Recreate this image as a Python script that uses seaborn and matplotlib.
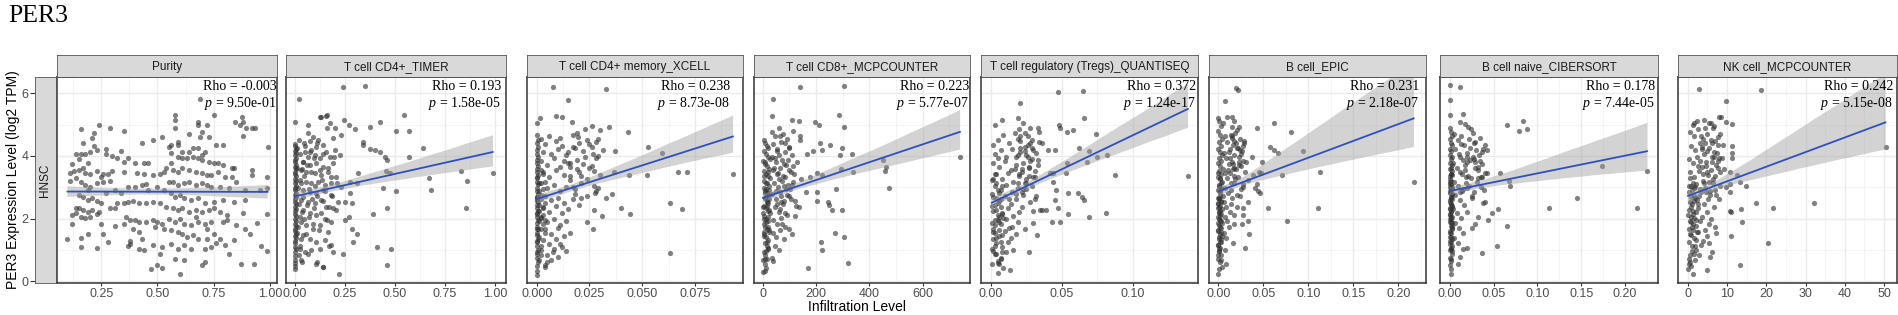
import numpy as np
import pandas as pd
import seaborn as sns
import matplotlib.pyplot as plt
from matplotlib.collections import PolyCollection

sns.set_theme(style="white")
plt.rcParams['font.family'] = ['Liberation Sans', 'DejaVu Sans']
plt.rcParams['mathtext.fontset'] = 'custom'
plt.rcParams['mathtext.rm'] = 'Liberation Serif'
plt.rcParams['mathtext.it'] = 'Liberation Serif:italic'

# %% DATA (PER3 log2 TPM vs infiltration level)

names = ['Purity', 'T cell CD4+_TIMER', 'T cell CD4+ memory_XCELL', 'T cell CD8+_MCPCOUNTER',
         'T cell regulatory (Tregs)_QUANTISEQ', 'B cell_EPIC', 'B cell naive_CIBERSORT', 'NK cell_MCPCOUNTER']
rho = ['-0.003', '0.193', '0.238', '0.223', '0.372', '0.231', '0.178', '0.242']
pval = ['9.50e-01', '1.58e-05', '8.73e-08', '5.77e-07', '1.24e-17', '2.18e-07', '7.44e-05', '5.15e-08']

xticks = [[0.25, 0.5, 0.75, 1.0], [0, 0.25, 0.5, 0.75, 1.0], [0, 0.025, 0.05, 0.075], [0, 200, 400, 600],
          [0, 0.05, 0.1], [0, 0.05, 0.1, 0.15, 0.2], [0, 0.05, 0.1, 0.15, 0.2], [0, 10, 20, 30, 40, 50]]
xticklabels = [['0.25', '0.50', '0.75', '1.00'], ['0.00', '0.25', '0.50', '0.75', '1.00'],
               ['0.000', '0.025', '0.050', '0.075'], ['0', '200', '400', '600'],
               ['0.00', '0.05', '0.10'], ['0.00', '0.05', '0.10', '0.15', '0.20'],
               ['0.00', '0.05', '0.10', '0.15', '0.20'], ['0', '10', '20', '30', '40', '50']]
xlims = [(0.054, 1.031), (-0.045, 1.055), (-0.0046, 0.0977), (-33, 777),
         (-0.0068, 0.146), (-0.0103, 0.2308), (-0.0114, 0.2377), (-2.5, 53.3)]

purity = [
    (0.16, 4.85), (0.24, 4.98), (0.29, 4.88), (0.35, 4.79), (0.22, 4.72), (0.17, 4.42), (0.21, 4.56), (0.22, 4.31),
    (0.27, 4.22), (0.34, 4.15), (0.14, 4.06), (0.16, 4.06), (0.18, 4.06), (0.20, 4.11), (0.23, 4.19), (0.30, 3.99),
    (0.32, 3.94), (0.37, 3.92), (0.35, 3.81), (0.40, 3.76), (0.43, 4.42), (0.48, 4.50), (0.52, 4.59), (0.44, 3.76),
    (0.46, 3.78), (0.12, 3.73), (0.15, 3.89), (0.19, 3.76), (0.11, 3.46), (0.13, 3.51), (0.15, 3.55), (0.18, 3.46),
    (0.20, 3.41), (0.23, 3.51), (0.26, 3.41), (0.28, 3.41), (0.30, 3.51), (0.35, 3.49), (0.41, 3.44), (0.44, 3.41),
    (0.48, 3.39), (0.51, 3.41), (0.53, 3.49), (0.11, 3.19), (0.16, 3.17), (0.18, 3.07), (0.20, 3.01), (0.23, 3.12),
    (0.26, 3.17), (0.29, 3.19), (0.31, 2.91), (0.37, 3.01), (0.40, 3.01), (0.43, 3.07), (0.45, 3.09), (0.46, 2.91),
    (0.50, 3.01), (0.53, 2.91), (0.15, 2.75), (0.17, 2.69), (0.19, 2.59), (0.19, 2.91), (0.21, 2.64), (0.23, 2.56),
    (0.25, 2.48), (0.27, 2.80), (0.34, 2.80), (0.32, 2.48), (0.35, 2.48), (0.37, 2.53), (0.39, 2.56), (0.42, 2.48),
    (0.45, 2.48), (0.48, 2.53), (0.51, 2.48), (0.14, 2.34), (0.15, 2.32), (0.17, 2.27), (0.19, 2.21), (0.21, 2.27),
    (0.24, 2.21), (0.29, 2.32), (0.31, 2.34), (0.12, 2.11), (0.14, 2.16), (0.16, 2.05), (0.18, 2.02), (0.20, 2.05),
    (0.23, 2.13), (0.25, 1.84), (0.36, 2.05), (0.38, 1.95), (0.40, 1.95), (0.42, 1.89), (0.45, 1.89), (0.48, 1.95),
    (0.50, 1.89), (0.52, 1.84), (0.12, 1.84), (0.31, 1.77), (0.35, 1.84), (0.39, 1.68), (0.42, 1.58), (0.43, 1.36),
    (0.49, 1.73), (0.53, 1.68), (0.19, 1.52), (0.26, 1.49), (0.10, 1.36), (0.16, 1.38), (0.28, 1.26), (0.38, 1.20),
    (0.38, 1.28), (0.16, 1.10), (0.23, 1.06), (0.37, 1.12), (0.42, 1.04), (0.44, 0.99), (0.48, 1.15), (0.52, 1.10),
    (0.47, 0.38), (0.50, 0.53), (0.52, 0.42), (0.51, 0.88),
    (0.58, 5.30), (0.58, 5.14), (0.58, 4.88), (0.68, 5.09), (0.68, 4.98), (0.72, 4.98), (0.75, 5.30), (0.70, 4.77),
    (0.845, 5.09), (0.875, 5.25), (0.88, 5.09), (0.865, 4.98), (0.895, 4.88), (0.92, 4.88), (0.88, 4.64),
    (0.935, 4.88), (0.99, 4.29), (0.64, 4.69), (0.69, 4.61), (0.73, 4.61), (0.76, 4.34), (0.79, 4.34), (0.55, 4.29),
    (0.56, 4.34), (0.59, 4.34), (0.59, 4.45), (0.61, 4.13), (0.64, 4.13), (0.66, 4.24), (0.68, 4.24), (0.70, 4.04),
    (0.71, 4.13), (0.56, 4.08), (0.59, 3.97), (0.61, 3.92), (0.63, 3.92), (0.66, 3.97), (0.68, 3.92), (0.70, 3.87),
    (0.73, 3.81), (0.75, 3.76), (0.77, 3.76), (0.79, 3.70), (0.83, 3.60), (0.84, 3.60), (0.92, 3.55), (0.56, 3.76),
    (0.54, 3.60), (0.57, 3.55), (0.59, 3.49), (0.61, 3.60), (0.64, 3.55), (0.67, 3.49), (0.70, 3.44), (0.72, 3.39),
    (0.74, 3.39), (0.77, 3.49), (0.80, 3.33), (0.83, 3.33), (0.85, 3.17), (0.92, 3.39), (0.985, 3.33), (0.55, 3.17),
    (0.57, 3.17), (0.59, 3.07), (0.62, 3.12), (0.64, 3.17), (0.67, 3.07), (0.70, 3.12), (0.72, 3.07), (0.74, 3.01),
    (0.78, 3.01), (0.82, 2.96), (0.89, 2.91), (0.955, 2.91), (0.985, 2.96), (0.56, 2.80), (0.58, 2.69), (0.60, 2.75),
    (0.62, 2.64), (0.65, 2.59), (0.68, 2.64), (0.71, 2.48), (0.75, 2.53), (0.79, 2.59), (0.84, 2.53), (0.89, 2.59),
    (0.54, 2.38), (0.57, 2.32), (0.59, 2.27), (0.61, 2.32), (0.64, 2.21), (0.67, 2.27), (0.70, 2.21), (0.73, 2.27),
    (0.75, 2.32), (0.78, 2.21), (0.81, 2.11), (0.55, 2.00), (0.58, 1.89), (0.60, 2.00), (0.62, 1.84), (0.65, 1.79),
    (0.68, 1.89), (0.71, 1.84), (0.74, 1.89), (0.79, 1.89), (0.85, 1.79), (0.89, 1.68), (0.985, 2.13), (0.56, 1.63),
    (0.59, 1.58), (0.61, 1.52), (0.66, 1.47), (0.68, 1.36), (0.72, 1.36), (0.75, 1.52), (0.78, 1.36), (0.56, 1.20),
    (0.59, 1.04), (0.62, 1.15), (0.65, 1.04), (0.71, 1.04), (0.74, 1.10), (0.80, 1.15), (0.82, 0.88), (0.985, 0.96),
    (0.58, 0.72), (0.62, 0.66), (0.70, 0.51), (0.71, 0.62), (0.87, 0.56), (0.93, 0.56), (0.60, 0.24), (0.69, 5.83),
    (0.17, 3.62), (0.27, 4.05), (0.14, 3.28), (0.25, 3.33), (0.63, 1.42), (0.67, 2.05), (0.72, 1.68), (0.76, 1.21),
    (0.81, 1.95), (0.84, 1.31), (0.88, 2.18), (0.91, 1.52), (0.94, 1.85), (0.96, 1.12),
]

cd4_timer = [
    (0.002, 4.38), (0.0, 4.31), (0.004, 4.22), (0.001, 4.17), (0.003, 4.09), (0.0, 4.02), (0.005, 3.93), (0.002, 3.88),
    (0.0, 3.79), (0.004, 3.71), (0.001, 3.66), (0.003, 3.58), (0.0, 3.47), (0.002, 3.41), (0.005, 3.36), (0.001, 3.27),
    (0.003, 3.19), (0.0, 3.12), (0.004, 3.04), (0.002, 2.97), (0.0, 2.91), (0.003, 2.83), (0.001, 2.74), (0.005, 2.69),
    (0.002, 2.61), (0.0, 2.52), (0.004, 2.46), (0.001, 2.38), (0.003, 2.31), (0.0, 2.23), (0.002, 2.14), (0.005, 2.08),
    (0.001, 1.99), (0.003, 1.92), (0.0, 1.83), (0.004, 1.77), (0.002, 1.68), (0.0, 1.61), (0.003, 1.52), (0.001, 1.44),
    (0.004, 1.37), (0.0, 1.28), (0.002, 1.21), (0.001, 1.09), (0.003, 1.02), (0.0, 0.93), (0.002, 0.81), (0.0, 0.66),
    (0.001, 0.58), (0.0, 0.47), (0.002, 0.39),
    (0.065, 4.98), (0.123, 5.25), (0.157, 5.28), (0.173, 5.05), (0.16, 4.88), (0.198, 4.88), (0.065, 4.72),
    (0.09, 4.61), (0.115, 4.50), (0.073, 4.47), (0.043, 4.40), (0.14, 4.34), (0.19, 4.56), (0.23, 4.66),
    (0.107, 4.29), (0.082, 4.19), (0.048, 4.13), (0.157, 4.13), (0.198, 4.19), (0.065, 3.97), (0.098, 4.03),
    (0.123, 3.92), (0.173, 3.97), (0.223, 4.03), (0.04, 3.81), (0.073, 3.70), (0.107, 3.76), (0.14, 3.65),
    (0.19, 3.76), (0.032, 3.55), (0.057, 3.49), (0.098, 3.44), (0.132, 3.39), (0.165, 3.49), (0.207, 3.33),
    (0.023, 3.23), (0.053, 3.17), (0.082, 3.12), (0.115, 3.17), (0.148, 3.07), (0.182, 3.12), (0.232, 3.01),
    (0.04, 2.91), (0.073, 2.85), (0.107, 2.80), (0.14, 2.91), (0.182, 2.75), (0.215, 2.53), (0.248, 2.53),
    (0.032, 2.59), (0.065, 2.53), (0.098, 2.48), (0.132, 2.59), (0.157, 2.38), (0.19, 2.32), (0.04, 2.27),
    (0.073, 2.16), (0.107, 2.11), (0.148, 2.00), (0.182, 1.89), (0.032, 1.89), (0.057, 1.79), (0.09, 1.68),
    (0.123, 1.79), (0.165, 1.58), (0.04, 1.47), (0.073, 1.36), (0.107, 1.26), (0.148, 1.31), (0.182, 1.15),
    (0.023, 1.04), (0.048, 0.94), (0.082, 0.99), (0.123, 1.04), (0.032, 0.66), (0.107, 0.56), (0.14, 0.45),
    (0.065, 0.88),
    (0.012, 3.62), (0.018, 2.45), (0.025, 4.05), (0.015, 1.72), (0.028, 3.15), (0.035, 2.21), (0.022, 4.52),
    (0.031, 1.35), (0.042, 3.82), (0.038, 2.68), (0.047, 1.98), (0.052, 4.31), (0.045, 3.35), (0.058, 2.42),
    (0.062, 3.71), (0.055, 1.52), (0.068, 2.95), (0.075, 4.12), (0.071, 2.05), (0.079, 3.48), (0.085, 2.62),
    (0.088, 1.81), (0.094, 3.92), (0.097, 2.33), (0.102, 3.05), (0.108, 4.42), (0.112, 2.72), (0.118, 1.62),
    (0.124, 3.55), (0.129, 2.18), (0.135, 3.22), (0.142, 2.55), (0.138, 4.05), (0.151, 2.88), (0.158, 1.95),
    (0.164, 3.62), (0.172, 2.38), (0.178, 3.32), (0.186, 2.72), (0.195, 3.95), (0.203, 2.28), (0.212, 3.12),
    (0.018, 0.85), (0.027, 1.12), (0.036, 0.62), (0.016, 2.98), (0.024, 2.05), (0.033, 3.58), (0.011, 4.25),
    (0.009, 1.55),
    (0.24, 6.19), (0.35, 6.23), (0.02, 5.81), (0.0, 5.09), (0.13, 5.25), (0.16, 5.30), (0.245, 5.16), (0.27, 4.98),
    (0.30, 4.87), (0.375, 4.93), (0.425, 5.09), (0.505, 4.80), (0.545, 5.30), (0.57, 4.79), (0.64, 4.24),
    (0.57, 3.95), (0.67, 3.30), (0.83, 3.51), (0.86, 3.19), (0.99, 3.46), (0.68, 2.91), (0.505, 2.88),
    (0.46, 2.35), (0.44, 2.96), (0.39, 2.14), (0.41, 1.08), (0.48, 1.02), (0.46, 0.52), (0.855, 2.35),
    (0.455, 3.53), (0.475, 3.44), (0.425, 4.13), (0.40, 4.19), (0.375, 4.21), (0.34, 4.45), (0.34, 4.35),
    (0.45, 3.97), (0.46, 3.86), (0.31, 1.52), (0.29, 1.26), (0.285, 1.68), (0.22, 0.24), (0.14, 0.45),
    (0.11, 0.61), (0.19, 0.92), (0.17, 1.13), (0.315, 3.44), (0.31, 3.12), (0.275, 3.17), (0.275, 2.82),
    (0.285, 2.48), (0.27, 2.05), (0.25, 1.94), (0.24, 0.88),
]

cd4_mem_xcell = [
    (0.0, 4.68), (0.0005, 4.51), (0.0, 4.42), (0.0005, 4.29), (0.0, 4.18), (0.0, 4.07), (0.0005, 3.96), (0.0, 3.88),
    (0.0, 3.77), (0.0005, 3.69), (0.0, 3.58), (0.0, 3.47), (0.0005, 3.39), (0.0, 3.28), (0.0, 3.17), (0.0005, 3.09),
    (0.0, 2.98), (0.0, 2.89), (0.0005, 2.78), (0.0, 2.69), (0.0, 2.61), (0.0005, 2.52), (0.0, 2.43), (0.0, 2.33),
    (0.0005, 2.24), (0.0, 2.13), (0.0, 2.04), (0.0005, 1.96), (0.0, 1.85), (0.0, 1.74), (0.0005, 1.66), (0.0, 1.55),
    (0.0, 1.47), (0.0005, 1.36), (0.0, 1.24), (0.0, 1.12), (0.0005, 1.01), (0.0, 0.88), (0.0, 0.74), (0.0005, 0.61),
    (0.0, 0.49), (0.0, 0.33), (0.0, 0.21),
    (0.002, 4.55), (0.004, 4.38), (0.006, 4.62), (0.009, 4.47), (0.012, 4.33), (0.003, 4.12), (0.007, 4.05),
    (0.010, 4.21), (0.014, 4.02), (0.017, 4.28), (0.002, 3.85), (0.005, 3.72), (0.008, 3.93), (0.011, 3.66),
    (0.015, 3.78), (0.019, 3.59), (0.003, 3.48), (0.006, 3.31), (0.009, 3.55), (0.013, 3.38), (0.016, 3.22),
    (0.021, 3.35), (0.002, 3.12), (0.005, 2.98), (0.008, 3.07), (0.011, 2.87), (0.014, 3.01), (0.018, 2.79),
    (0.004, 2.72), (0.007, 2.58), (0.010, 2.66), (0.013, 2.49), (0.017, 2.61), (0.003, 2.35), (0.006, 2.22),
    (0.009, 2.41), (0.012, 2.17), (0.015, 2.31), (0.020, 2.44), (0.002, 2.03), (0.005, 1.88), (0.008, 1.97),
    (0.011, 1.79), (0.014, 1.92), (0.004, 1.65), (0.007, 1.52), (0.010, 1.71), (0.013, 1.43), (0.003, 1.31),
    (0.006, 1.18), (0.009, 1.36), (0.012, 1.08), (0.002, 0.98), (0.005, 0.84), (0.008, 1.02), (0.004, 0.45),
    (0.007, 0.68), (0.013, 3.85), (0.011, 4.58), (0.016, 3.65),
    (0.0, 2.18), (0.001, 1.42), (0.002, 2.75), (0.0, 0.92), (0.003, 2.36), (0.001, 3.12), (0.002, 1.68),
    (0.0, 2.55), (0.004, 1.95), (0.001, 0.68), (0.003, 3.42), (0.002, 2.05), (0.0, 1.28), (0.001, 2.88),
    (0.004, 2.48), (0.002, 1.12), (0.0, 3.31), (0.003, 1.82), (0.001, 2.25), (0.002, 3.55), (0.004, 1.55),
    (0.0, 2.68), (0.001, 1.91), (0.003, 2.95), (0.002, 0.82), (0.004, 3.18), (0.001, 2.42), (0.0, 1.65),
    (0.003, 2.12), (0.002, 2.62),
    (0.015, 4.12), (0.016, 3.35), (0.017, 4.68), (0.018, 2.95), (0.019, 3.88), (0.020, 4.42), (0.021, 3.12),
    (0.022, 3.75), (0.023, 4.85), (0.024, 2.72), (0.025, 3.62), (0.026, 4.28), (0.027, 3.05), (0.028, 3.92),
    (0.029, 4.55), (0.030, 3.38), (0.016, 3.78), (0.018, 4.25), (0.020, 3.48), (0.022, 4.15), (0.024, 3.25),
    (0.026, 3.68), (0.028, 2.88), (0.017, 3.02), (0.019, 4.72), (0.021, 2.65), (0.023, 3.95), (0.025, 4.38),
    (0.027, 3.52), (0.029, 2.98),
    (0.0079, 6.19), (0.033, 6.14), (0.015, 5.77), (0.009, 5.27), (0.0118, 5.25), (0.0166, 5.07), (0.0, 5.04),
    (0.0016, 5.20), (0.026, 4.95), (0.030, 4.82), (0.034, 4.93), (0.043, 4.75), (0.0197, 4.59), (0.024, 4.50),
    (0.028, 4.45), (0.0315, 4.19), (0.037, 4.16), (0.0526, 4.29), (0.0592, 4.08), (0.0265, 4.05), (0.0292, 4.00),
    (0.067, 3.47), (0.071, 3.49), (0.093, 3.42), (0.052, 3.38), (0.0437, 3.40), (0.0367, 3.49), (0.0276, 2.82),
    (0.0355, 2.77), (0.0328, 2.64), (0.040, 2.34), (0.044, 2.13), (0.031, 2.09), (0.027, 2.27), (0.063, 2.48),
    (0.069, 2.30), (0.024, 1.90), (0.0265, 1.68), (0.016, 1.55), (0.063, 0.90), (0.0139, 0.97), (0.011, 1.20),
    (0.0079, 0.93), (0.0103, 0.78), (0.0047, 0.62), (0.004, 0.51),
]

cd8_mcp = [
    (3, 4.52), (8, 4.41), (14, 4.33), (21, 4.25), (5, 4.16), (11, 4.05), (18, 3.97), (26, 3.91), (2, 3.84),
    (9, 3.75), (16, 3.68), (24, 3.59), (4, 3.51), (12, 3.43), (19, 3.36), (28, 3.28), (6, 3.21), (13, 3.12),
    (22, 3.05), (3, 2.97), (10, 2.89), (17, 2.81), (25, 2.74), (7, 2.66), (15, 2.57), (21, 2.49), (4, 2.41),
    (11, 2.33), (19, 2.24), (27, 2.17), (6, 2.08), (13, 1.99), (20, 1.91), (3, 1.82), (9, 1.74), (16, 1.66),
    (24, 1.57), (5, 1.49), (12, 1.41), (18, 1.32), (8, 1.23), (14, 1.12), (21, 1.04), (4, 0.93), (10, 0.82),
    (16, 0.71), (7, 0.55), (12, 0.42), (2, 0.30),
    (35, 4.75), (45, 4.62), (60, 4.88), (75, 4.71), (90, 4.55), (40, 4.38), (55, 4.21), (70, 4.44), (85, 4.12),
    (100, 4.30), (35, 3.95), (48, 3.82), (62, 4.03), (78, 3.74), (95, 3.88), (115, 3.67), (38, 3.55), (52, 3.41),
    (66, 3.62), (83, 3.32), (105, 3.47), (42, 3.15), (57, 3.02), (72, 3.21), (88, 2.95), (110, 3.08), (36, 2.78),
    (50, 2.63), (64, 2.85), (80, 2.55), (98, 2.71), (45, 2.38), (60, 2.21), (75, 2.45), (92, 2.12), (40, 1.95),
    (55, 1.81), (68, 2.02), (85, 1.72), (38, 1.55), (50, 1.41), (65, 1.62), (45, 1.12), (60, 0.98), (35, 0.75),
    (120, 2.55), (130, 3.80), (100, 1.65),
    (2, 2.18), (5, 1.45), (8, 2.82), (11, 0.95), (14, 2.41), (17, 3.15), (20, 1.72), (23, 2.62), (3, 3.35),
    (6, 1.98), (9, 0.72), (12, 2.95), (15, 1.25), (18, 2.05), (21, 3.48), (24, 2.28), (4, 1.58), (7, 2.65),
    (10, 3.82), (13, 1.88), (16, 2.52), (19, 1.05), (22, 2.92), (1, 2.38), (25, 1.62),
    (42, 3.62), (48, 2.88), (55, 4.15), (61, 3.25), (67, 2.52), (73, 3.88), (79, 3.05), (85, 4.42), (91, 2.75),
    (97, 3.55), (103, 2.95), (109, 4.02), (115, 3.18), (45, 3.92), (52, 2.45), (58, 3.45), (64, 4.62), (70, 2.72),
    (76, 3.35), (82, 2.18), (88, 3.72), (94, 3.08), (100, 4.25), (106, 2.62), (118, 3.42),
    (140, 6.19), (306, 6.23), (37, 5.81), (34, 5.28), (109, 5.16), (134, 5.11), (196, 5.09), (211, 5.00),
    (286, 5.32), (305, 4.93), (113, 4.80), (138, 4.63), (140, 4.50), (215, 4.40), (252, 4.35), (296, 4.24),
    (334, 4.05), (290, 4.02), (187, 4.16), (165, 4.05), (221, 4.19), (452, 3.86), (461, 3.65), (459, 3.51),
    (475, 2.96), (740, 3.95), (294, 3.57), (340, 3.49), (205, 3.44), (221, 3.38), (178, 3.33), (143, 3.26),
    (162, 2.85), (203, 2.85), (203, 2.56), (246, 2.53), (250, 2.43), (259, 2.27), (296, 2.27), (274, 2.93),
    (125, 2.40), (134, 2.37), (119, 2.09), (109, 1.52), (81, 1.36), (271, 1.55), (218, 1.26), (221, 0.99),
    (305, 1.40), (321, 0.57), (171, 0.43), (40, 0.65), (9, 0.31), (0, 0.68), (63, 2.30), (71, 1.84),
]

treg_quantiseq = [
    (0.002, 4.35), (0.005, 4.52), (0.009, 4.68), (0.013, 4.41), (0.017, 4.72), (0.021, 4.49), (0.026, 4.62),
    (0.003, 4.05), (0.007, 4.18), (0.011, 3.97), (0.015, 4.22), (0.019, 4.02), (0.024, 4.15), (0.029, 3.91),
    (0.002, 3.78), (0.006, 3.64), (0.010, 3.83), (0.014, 3.55), (0.018, 3.72), (0.022, 3.48), (0.027, 3.66),
    (0.004, 3.41), (0.008, 3.27), (0.012, 3.46), (0.016, 3.18), (0.020, 3.35), (0.025, 3.12), (0.031, 3.31),
    (0.003, 3.05), (0.007, 2.91), (0.011, 3.08), (0.015, 2.84), (0.019, 2.97), (0.023, 2.76), (0.002, 2.68),
    (0.006, 2.55), (0.010, 2.72), (0.014, 2.46), (0.018, 2.61), (0.022, 2.38), (0.028, 2.52), (0.004, 2.28),
    (0.008, 2.15), (0.012, 2.33), (0.016, 2.07), (0.020, 2.21), (0.003, 1.95), (0.007, 1.82), (0.011, 1.98),
    (0.015, 1.74), (0.019, 1.88), (0.024, 1.67), (0.002, 1.58), (0.006, 1.45), (0.010, 1.61), (0.014, 1.37),
    (0.018, 1.52), (0.004, 1.22), (0.008, 1.09), (0.012, 1.26), (0.016, 1.01), (0.003, 0.88), (0.007, 0.74),
    (0.011, 0.93), (0.005, 0.58), (0.009, 0.43), (0.001, 2.41), (0.001, 3.22), (0.013, 2.62), (0.017, 3.58),
    (0.021, 4.26), (0.009, 2.02), (0.013, 1.71), (0.005, 3.94), (0.025, 2.94), (0.030, 2.25),
    (0.001, 1.85), (0.002, 0.95), (0.003, 2.42), (0.004, 1.38), (0.005, 2.91), (0.006, 1.62), (0.007, 0.72),
    (0.008, 2.18), (0.002, 3.25), (0.003, 1.12), (0.004, 2.65), (0.005, 1.95), (0.006, 0.55), (0.007, 2.38),
    (0.008, 1.48), (0.001, 2.78), (0.002, 1.68), (0.003, 3.42), (0.004, 0.88), (0.005, 2.12), (0.006, 2.82),
    (0.007, 1.25), (0.008, 3.05), (0.001, 1.02), (0.002, 2.25), (0.003, 1.55), (0.004, 3.15), (0.005, 0.65),
    (0.006, 1.88), (0.007, 2.62), (0.008, 0.92), (0.003, 1.78), (0.005, 2.48), (0.002, 1.35), (0.006, 2.05),
    (0.018, 3.95), (0.019, 4.55), (0.020, 3.42), (0.021, 4.12), (0.022, 2.85), (0.023, 3.78), (0.024, 4.72),
    (0.025, 3.25), (0.026, 4.35), (0.027, 3.62), (0.028, 4.88), (0.029, 3.05), (0.030, 4.18), (0.031, 3.52),
    (0.032, 2.72), (0.033, 3.88), (0.034, 4.45), (0.019, 3.15), (0.021, 4.62), (0.023, 2.95), (0.025, 4.02),
    (0.027, 3.35), (0.029, 4.25), (0.031, 2.62), (0.033, 3.72), (0.020, 4.85), (0.022, 3.58), (0.024, 3.12),
    (0.026, 3.98), (0.028, 4.42), (0.030, 3.32), (0.032, 4.08), (0.018, 2.78), (0.024, 4.28), (0.028, 3.85),
    (0.0472, 6.05), (0.0648, 6.08), (0.0206, 5.70), (0.066, 5.20), (0.048, 4.98), (0.049, 4.88), (0.0535, 4.77),
    (0.058, 4.82), (0.074, 4.69), (0.0624, 4.24), (0.0695, 4.16), (0.0676, 3.81), (0.0751, 3.97), (0.0817, 4.02),
    (0.054, 3.76), (0.053, 3.44), (0.0875, 3.38), (0.139, 3.35), (0.0547, 2.82), (0.0617, 2.82), (0.0645, 2.69),
    (0.0657, 2.58), (0.0472, 2.34), (0.0547, 2.13), (0.069, 2.05), (0.0812, 2.16), (0.049, 1.90), (0.043, 1.88),
    (0.045, 2.58), (0.046, 2.90), (0.0441, 3.17), (0.0441, 3.44), (0.0406, 4.19), (0.045, 4.19), (0.033, 4.88),
    (0.034, 4.77), (0.029, 4.50), (0.036, 4.40), (0.0418, 3.44), (0.0348, 2.27), (0.036, 2.27), (0.039, 2.27),
    (0.0296, 1.87), (0.0328, 1.47), (0.0272, 0.94), (0.0136, 0.35), (0.0049, 0.26), (0.0007, 0.54), (0.0031, 4.98),
    (0.0078, 5.14), (0.0195, 5.20), (0.023, 5.04),
]

b_epic = [
    (0.001, 5.12), (0.003, 4.95), (0.000, 4.81), (0.002, 4.68), (0.004, 4.55), (0.001, 4.43), (0.003, 4.31),
    (0.000, 4.22), (0.002, 4.12), (0.004, 4.03), (0.001, 3.94), (0.003, 3.85), (0.000, 3.76), (0.002, 3.68),
    (0.005, 3.59), (0.001, 3.51), (0.003, 3.42), (0.000, 3.33), (0.002, 3.25), (0.004, 3.16), (0.001, 3.08),
    (0.003, 2.99), (0.000, 2.91), (0.002, 2.82), (0.005, 2.73), (0.001, 2.65), (0.003, 2.56), (0.000, 2.48),
    (0.002, 2.39), (0.004, 2.31), (0.001, 2.22), (0.003, 2.13), (0.000, 2.05), (0.002, 1.96), (0.004, 1.87),
    (0.001, 1.78), (0.003, 1.69), (0.000, 1.61), (0.002, 1.52), (0.004, 1.43), (0.001, 1.34), (0.003, 1.25),
    (0.000, 1.16), (0.002, 1.06), (0.001, 0.95), (0.003, 0.84), (0.000, 0.72), (0.002, 0.61), (0.001, 0.38),
    (0.007, 4.62), (0.010, 4.45), (0.013, 4.21), (0.006, 4.08), (0.009, 3.92), (0.012, 3.74), (0.016, 3.58),
    (0.007, 3.46), (0.010, 3.28), (0.014, 3.12), (0.008, 2.96), (0.011, 2.81), (0.015, 2.66), (0.006, 2.52),
    (0.009, 2.37), (0.013, 2.21), (0.007, 2.06), (0.010, 1.91), (0.012, 1.72), (0.006, 1.55), (0.009, 1.38),
    (0.008, 0.98), (0.018, 3.35), (0.021, 2.75), (0.017, 2.12), (0.011, 3.55), (0.014, 2.45),
    (0.000, 1.85), (0.001, 2.62), (0.002, 1.25), (0.003, 2.95), (0.000, 0.82), (0.001, 2.18), (0.002, 3.28),
    (0.003, 1.58), (0.000, 2.45), (0.001, 1.05), (0.002, 2.72), (0.003, 1.92), (0.000, 3.45), (0.001, 1.42),
    (0.002, 2.08), (0.003, 0.68), (0.000, 2.32), (0.001, 3.05), (0.002, 1.72), (0.003, 2.52), (0.000, 1.15),
    (0.001, 1.98), (0.002, 2.88), (0.003, 1.35), (0.000, 2.65), (0.001, 0.95), (0.002, 2.25), (0.003, 3.12),
    (0.000, 1.62), (0.001, 2.38),
    (0.012, 4.12), (0.013, 3.45), (0.014, 4.68), (0.015, 3.82), (0.016, 4.35), (0.017, 3.15), (0.018, 4.02),
    (0.019, 4.72), (0.020, 3.58), (0.021, 4.25), (0.022, 3.32), (0.023, 3.95), (0.024, 4.55), (0.025, 3.68),
    (0.026, 4.15), (0.027, 3.02), (0.028, 3.85), (0.029, 4.42), (0.030, 3.48), (0.013, 3.92), (0.015, 4.58),
    (0.017, 3.62), (0.019, 3.25), (0.021, 4.82), (0.023, 3.72), (0.025, 4.05), (0.027, 4.32), (0.014, 2.92),
    (0.016, 3.75), (0.018, 4.48),
    (0.0197, 6.16), (0.0214, 6.10), (0.0074, 5.76), (0.0093, 5.23), (0.0148, 5.25), (0.0174, 5.11), (0.0, 5.20),
    (0.0056, 5.04), (0.0156, 4.93), (0.0233, 4.93), (0.0426, 4.88), (0.062, 5.06), (0.081, 4.75), (0.0285, 4.48),
    (0.0148, 4.62), (0.020, 4.40), (0.022, 4.24), (0.024, 4.19), (0.037, 3.97), (0.057, 4.29), (0.0615, 4.19),
    (0.066, 4.08), (0.0937, 4.16), (0.0233, 3.81), (0.0307, 3.81), (0.049, 3.81), (0.0456, 3.49), (0.047, 3.44),
    (0.0711, 3.40), (0.113, 3.49), (0.0389, 3.38), (0.0333, 3.22), (0.0278, 3.11), (0.0426, 3.09), (0.0407, 2.98),
    (0.0444, 2.87), (0.0463, 2.81), (0.0241, 2.73), (0.0248, 2.95), (0.2174, 3.17), (0.0556, 2.32), (0.111, 2.32),
    (0.0333, 2.53), (0.0278, 2.32), (0.0204, 2.37), (0.0278, 2.11), (0.0259, 1.84), (0.0174, 1.84), (0.076, 1.92),
    (0.0333, 1.93), (0.0344, 1.52), (0.0159, 1.23), (0.0296, 1.07), (0.0085, 0.54), (0.0037, 0.45), (0.0, 0.24),
]

bnaive_cibersort = [
    (0.000, 4.88), (0.001, 4.77), (0.002, 4.63), (0.000, 4.55), (0.001, 4.41), (0.002, 4.36), (0.000, 4.22),
    (0.001, 4.17), (0.000, 4.04), (0.002, 3.96), (0.001, 3.91), (0.000, 3.78), (0.002, 3.72), (0.001, 3.61),
    (0.000, 3.57), (0.001, 3.43), (0.002, 3.38), (0.000, 3.26), (0.001, 3.21), (0.000, 3.09), (0.002, 3.02),
    (0.001, 2.94), (0.000, 2.81), (0.002, 2.77), (0.001, 2.64), (0.000, 2.58), (0.001, 2.47), (0.002, 2.41),
    (0.000, 2.29), (0.001, 2.23), (0.000, 2.12), (0.002, 2.06), (0.001, 1.94), (0.000, 1.89), (0.001, 1.76),
    (0.002, 1.71), (0.000, 1.59), (0.001, 1.53), (0.000, 1.42), (0.002, 1.36), (0.001, 1.24), (0.000, 1.18),
    (0.001, 1.07), (0.000, 0.99), (0.002, 0.86), (0.000, 0.74), (0.001, 0.63), (0.000, 0.51),
    (0.005, 4.71), (0.009, 4.52), (0.013, 4.38), (0.006, 4.22), (0.010, 4.05), (0.015, 3.88), (0.004, 3.76),
    (0.008, 3.61), (0.012, 3.47), (0.018, 3.32), (0.005, 3.18), (0.009, 3.03), (0.014, 2.88), (0.020, 2.97),
    (0.006, 2.74), (0.011, 2.59), (0.016, 2.42), (0.004, 2.31), (0.008, 2.16), (0.013, 2.02), (0.019, 2.22),
    (0.006, 1.87), (0.010, 1.71), (0.015, 1.55), (0.005, 1.38), (0.009, 1.21), (0.022, 3.05), (0.025, 2.65),
    (0.027, 3.90), (0.012, 2.85), (0.017, 3.55),
    (0.000, 2.15), (0.001, 1.42), (0.002, 2.78), (0.000, 3.35), (0.001, 1.88), (0.002, 0.95), (0.000, 2.52),
    (0.001, 3.08), (0.002, 1.65), (0.000, 2.32), (0.001, 0.72), (0.002, 2.95), (0.000, 1.28), (0.001, 2.45),
    (0.002, 3.52), (0.000, 1.98), (0.001, 2.68), (0.002, 1.12), (0.000, 3.18), (0.001, 2.05), (0.002, 2.38),
    (0.000, 1.55), (0.001, 3.42), (0.002, 1.85), (0.000, 2.88), (0.001, 1.02), (0.002, 2.62), (0.000, 3.02),
    (0.001, 2.22), (0.002, 1.75),
    (0.012, 3.95), (0.014, 3.42), (0.016, 4.35), (0.018, 3.12), (0.020, 3.82), (0.022, 4.55), (0.024, 3.28),
    (0.026, 3.95), (0.028, 2.85), (0.030, 4.18), (0.032, 3.55), (0.034, 3.85), (0.036, 3.02), (0.038, 4.22),
    (0.040, 3.45), (0.013, 4.62), (0.015, 2.95), (0.017, 3.72), (0.019, 4.08), (0.021, 3.35), (0.023, 3.88),
    (0.025, 2.72), (0.027, 4.42), (0.029, 3.62), (0.031, 3.18), (0.033, 4.02), (0.035, 3.32), (0.037, 3.75),
    (0.039, 2.92), (0.024, 4.85),
    (0.0, 6.26), (0.0118, 6.21), (0.0, 5.79), (0.0, 5.30), (0.0152, 5.33), (0.0114, 5.09), (0.0171, 5.01),
    (0.021, 4.93), (0.0655, 5.00), (0.0831, 5.11), (0.0793, 4.80), (0.0884, 4.85), (0.0267, 4.72), (0.0343, 4.56),
    (0.0286, 4.45), (0.0400, 4.35), (0.0419, 4.19), (0.0362, 4.13), (0.0229, 4.24), (0.019, 3.97), (0.0286, 3.81),
    (0.0324, 3.65), (0.042, 3.44), (0.0571, 3.46), (0.0362, 3.33), (0.0324, 3.28), (0.0678, 3.20), (0.0686, 3.04),
    (0.1733, 3.67), (0.2255, 3.52), (0.1448, 2.64), (0.1133, 2.34), (0.214, 2.34), (0.0553, 2.29), (0.0476, 2.18),
    (0.038, 2.48), (0.040, 2.53), (0.0324, 2.05), (0.0438, 1.95), (0.0286, 1.84), (0.0248, 1.70), (0.0648, 1.76),
    (0.0533, 1.12), (0.0362, 0.89), (0.0152, 1.02), (0.0198, 1.05), (0.0114, 0.77), (0.0095, 0.55), (0.0008, 0.24),
    (0.0008, 0.40),
]

nk_mcp = [
    (0.5, 4.75), (1.5, 4.62), (2.6, 4.85), (3.8, 4.55), (4.9, 4.71), (6.1, 4.42), (0.8, 4.31), (1.9, 4.18),
    (3.1, 4.41), (4.2, 4.05), (5.5, 4.26), (6.8, 3.98), (0.3, 3.89), (1.2, 3.76), (2.3, 3.95), (3.5, 3.64),
    (4.6, 3.82), (5.8, 3.55), (7.2, 3.71), (0.6, 3.47), (1.6, 3.33), (2.8, 3.52), (3.9, 3.21), (5.1, 3.39),
    (6.4, 3.12), (0.2, 3.05), (1.1, 2.92), (2.1, 3.11), (3.3, 2.84), (4.4, 2.99), (5.6, 2.76), (7.0, 2.91),
    (0.7, 2.68), (1.7, 2.55), (2.9, 2.72), (4.0, 2.45), (5.2, 2.61), (6.6, 2.38), (0.4, 2.27), (1.4, 2.14),
    (2.5, 2.32), (3.6, 2.05), (4.8, 2.21), (6.0, 1.97), (0.9, 1.88), (2.0, 1.75), (3.2, 1.92), (4.3, 1.64),
    (5.4, 1.81), (0.5, 1.52), (1.6, 1.38), (2.7, 1.56), (3.8, 1.27), (5.0, 1.43), (1.0, 1.12), (2.2, 0.98),
    (3.4, 1.15), (0.6, 0.82), (1.8, 0.68), (2.9, 0.85), (0.3, 0.55), (1.3, 4.98), (2.4, 5.12), (7.6, 4.35),
    (8.3, 3.48), (7.9, 2.62), (6.9, 1.72), (1.1, 2.46), (2.6, 3.68), (3.7, 4.22), (1.9, 3.02), (0.8, 2.05),
    (4.6, 2.84),
    (0.2, 1.25), (0.5, 1.92), (0.9, 2.38), (1.2, 1.64), (1.5, 2.71), (1.8, 1.12), (2.1, 2.22), (0.4, 2.85),
    (0.7, 1.48), (1.0, 0.95), (1.3, 3.12), (1.6, 2.02), (2.0, 1.31), (2.3, 2.58), (0.3, 0.72), (0.6, 2.52),
    (0.9, 3.05), (1.4, 1.82), (1.9, 2.66), (2.4, 1.58), (0.1, 2.12), (0.5, 3.28), (1.1, 1.73), (1.7, 2.97),
    (2.2, 1.96), (0.8, 0.48), (1.5, 0.88), (2.5, 2.45), (0.2, 1.68), (1.2, 2.25),
    (3.0, 3.85), (3.4, 4.62), (3.9, 3.41), (4.3, 4.88), (4.7, 3.67), (5.0, 4.15), (5.4, 3.18), (5.8, 4.52),
    (6.2, 3.79), (6.6, 4.95), (7.0, 3.35), (7.4, 4.08), (7.8, 3.62), (8.2, 4.71), (8.7, 3.94), (3.2, 2.95),
    (3.6, 4.28), (4.1, 3.12), (4.5, 4.41), (4.9, 3.49), (5.3, 5.05), (5.7, 2.88), (6.1, 3.98), (6.5, 3.26),
    (6.9, 4.47), (7.3, 2.74), (7.7, 3.85), (8.1, 3.05), (8.9, 4.36), (9.3, 3.58),
    (2.96, 6.13), (18.65, 6.10), (9.66, 5.75), (7.97, 5.25), (8.48, 5.23), (9.75, 5.09), (11.2, 5.01), (1.6, 5.04),
    (4.0, 5.16), (5.9, 5.04), (6.5, 4.88), (7.7, 4.61), (11.3, 4.31), (11.3, 4.08), (11.3, 3.92), (50.4, 4.27),
    (8.0, 3.92), (6.8, 4.13), (10.7, 3.49), (12.6, 3.38), (13.3, 3.17), (14.8, 3.04), (10.7, 3.11), (9.8, 3.02),
    (10.7, 2.85), (17.3, 2.48), (21.7, 2.34), (32.2, 2.48), (13.6, 2.29), (10.7, 2.24), (11.1, 2.21), (13.9, 1.90),
    (11.1, 1.44), (7.3, 1.55), (20.5, 1.22), (6.1, 0.94), (5.7, 0.78), (13.3, 0.51), (4.8, 0.37), (1.4, 0.24),
    (0.0, 0.40), (0.6, 0.61), (5.3, 1.22),
]

series = [purity, cd4_timer, cd4_mem_xcell, cd8_mcp, treg_quantiseq, b_epic, bnaive_cibersort, nk_mcp]

# %% LAYOUT (pixel positions of the panels in the 1899 x 315 figure)

W, H = 1899, 315
panel_px = [(57, 277), (286, 506), (527, 743), (754, 970), (981, 1198), (1209, 1426), (1440, 1658), (1678, 1897)]
text_right = [277, 501, 730, 969, 1196, 1419, 1655, 1893]
top, bottom, strip_top = 77, 283, 55
ylim = (-0.06, 6.52)

fig = plt.figure(figsize=(W / 100, H / 100), dpi=100)
fig.patch.set_facecolor('white')

def fx(px):
    return px / W

def fy(py):
    return 1 - py / H

for i, pts in enumerate(series):
    l, r = panel_px[i]
    ax = fig.add_axes([fx(l), fy(bottom), (r - l) / W, (bottom - top) / H])
    df = pd.DataFrame(pts, columns=['Infiltration', 'Expression'])
    sns.regplot(
        data=df, x='Infiltration', y='Expression', ax=ax, ci=80, seed=1,
        scatter_kws=dict(s=14, color='#333333', alpha=0.62, linewidths=0),
        line_kws=dict(color='#2F50BA', lw=1.3),
    )
    for coll in ax.collections:
        if isinstance(coll, PolyCollection):
            coll.set_facecolor('#9E9E9E')
            coll.set_alpha(0.45)
            coll.set_edgecolor('none')

    ax.set_xlabel('')
    ax.set_ylabel('')
    lo, hi = xlims[i]
    ax.set_xlim(lo, hi)
    ax.set_ylim(*ylim)
    t = xticks[i]
    ax.set_xticks(t)
    ax.set_xticklabels(xticklabels[i])
    step = (t[1] - t[0]) / 2
    m, minors = t[0] - step, []
    while m < hi:
        if m > lo:
            minors.append(m)
        m += 2 * step
    ax.set_xticks(minors, minor=True)
    ax.set_yticks([0, 2, 4, 6])
    ax.set_yticks([1, 3, 5], minor=True)
    ax.set_axisbelow(True)
    ax.grid(which='major', color='#EBEBEB', lw=1.0)
    ax.grid(which='minor', color='#F2F2F2', lw=0.6)
    ax.tick_params(which='minor', length=0)
    ax.tick_params(axis='y', left=False, labelleft=False)
    ax.tick_params(axis='x', bottom=True, length=2.5, width=0.8, color='#333333',
                   labelsize=9, labelcolor='#4D4D4D', pad=0.8)
    for s in ax.spines.values():
        s.set_color('#333333')
        s.set_linewidth(1.1)

    sax = fig.add_axes([fx(l), fy(top), (r - l) / W, (top - strip_top) / H])
    sax.set_facecolor('#D9D9D9')
    sax.set_xticks([])
    sax.set_yticks([])
    for s in sax.spines.values():
        s.set_color('#555555')
        s.set_linewidth(0.6)
    sax.text(0.5, 0.47, names[i], ha='center', va='center', fontsize=8.5, color='#1A1A1A',
             transform=sax.transAxes)

    fig.text(fx(text_right[i]), fy(90), 'Rho = ' + rho[i], ha='right', va='baseline',
             family='Liberation Serif', fontsize=10, color='black')
    fig.text(fx(text_right[i]), fy(106.5), '$p$ = ' + pval[i], ha='right', va='baseline',
             family='Liberation Serif', fontsize=10, color='black')

# row strip on the left, carrying the shared y axis
hax = fig.add_axes([fx(35), fy(bottom), 21 / W, (bottom - top) / H])
hax.set_facecolor('#D9D9D9')
hax.set_ylim(*ylim)
hax.set_xticks([])
hax.set_yticks([0, 2, 4, 6])
hax.tick_params(axis='y', left=True, length=3.5, width=0.8, color='#333333',
                labelsize=9, labelcolor='#4D4D4D', pad=1)
for s in hax.spines.values():
    s.set_color('#555555')
    s.set_linewidth(0.6)
hax.text(0.5, 0.5, 'HNSC', rotation=90, ha='center', va='center', fontsize=8.5,
         color='#1A1A1A', transform=hax.transAxes)

fig.text(fx(13), fy(180), 'PER3 Expression Level (log2 TPM)', rotation=90,
         ha='center', va='center', fontsize=10, color='black')
fig.text(fx(857), fy(311), 'Infiltration Level', ha='center', va='baseline',
         fontsize=10, color='black')
fig.text(fx(8), fy(22), 'PER3', ha='left', va='baseline', family='Liberation Serif',
         fontsize=18.5, color='black')

fig.savefig('out.png', dpi=100, facecolor='white')
